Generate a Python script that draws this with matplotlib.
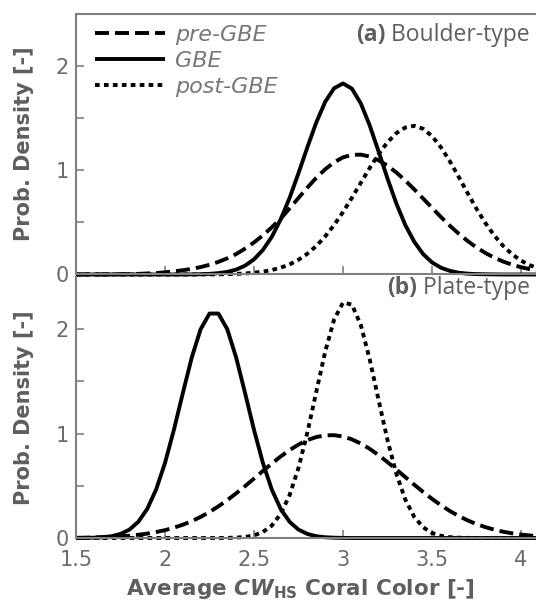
import numpy as np
import matplotlib
matplotlib.use("Agg")
import matplotlib.pyplot as plt
from matplotlib.ticker import FixedLocator, FuncFormatter

x = np.round(np.linspace(1.5, 4.1, 53), 2)

a_pre = [0, 0.001, 0.001, 0.001, 0.002, 0.003, 0.004, 0.006, 0.010, 0.014,
         0.021, 0.030, 0.041, 0.054, 0.071, 0.093, 0.121, 0.155, 0.196, 0.248,
         0.307, 0.375, 0.452, 0.535, 0.633, 0.733, 0.833, 0.926, 1.008, 1.075,
         1.122, 1.146, 1.148, 1.130, 1.094, 1.042, 0.977, 0.900, 0.816, 0.728,
         0.639, 0.551, 0.468, 0.391, 0.321, 0.259, 0.206, 0.161, 0.124, 0.094,
         0.070, 0.051, 0.037]
a_gbe = [0, 0, 0, 0, 0, 0, 0, 0, 0, 0,
         0, 0, 0, 0.001, 0.003, 0.006, 0.013, 0.025, 0.047, 0.085,
         0.145, 0.235, 0.361, 0.528, 0.734, 0.971, 1.220, 1.457, 1.654, 1.784,
         1.830, 1.780, 1.639, 1.428, 1.178, 0.919, 0.679, 0.474, 0.314, 0.196,
         0.116, 0.065, 0.035, 0.017, 0.008, 0.004, 0.002, 0.001, 0, 0,
         0, 0, 0]
a_post = [0, 0, 0, 0, 0, 0, 0, 0, 0, 0,
          0, 0, 0, 0, 0, 0.001, 0.002, 0.003, 0.006, 0.010,
          0.017, 0.027, 0.043, 0.065, 0.097, 0.141, 0.199, 0.273, 0.365, 0.474,
          0.598, 0.735, 0.878, 1.020, 1.153, 1.267, 1.354, 1.408, 1.424, 1.396,
          1.326, 1.219, 1.085, 0.935, 0.780, 0.630, 0.493, 0.373, 0.273, 0.194,
          0.133, 0.089, 0.057]

b_pre = [0.002, 0.003, 0.005, 0.008, 0.011, 0.016, 0.022, 0.031, 0.042, 0.057,
         0.075, 0.099, 0.127, 0.161, 0.202, 0.249, 0.303, 0.363, 0.428, 0.497,
         0.569, 0.642, 0.713, 0.781, 0.842, 0.895, 0.938, 0.967, 0.983, 0.985,
         0.972, 0.945, 0.905, 0.854, 0.794, 0.727, 0.656, 0.583, 0.511, 0.441,
         0.375, 0.314, 0.259, 0.211, 0.169, 0.133, 0.104, 0.080, 0.060, 0.045,
         0.033, 0.024, 0.017]
b_gbe = [0, 0.001, 0.003, 0.007, 0.017, 0.039, 0.080, 0.155, 0.278, 0.464,
         0.719, 1.036, 1.387, 1.727, 1.999, 2.150, 2.150, 1.999, 1.727, 1.387,
         1.036, 0.719, 0.464, 0.278, 0.155, 0.080, 0.039, 0.017, 0.007, 0.003,
         0.001, 0, 0, 0, 0, 0, 0, 0, 0, 0,
         0, 0, 0, 0, 0, 0, 0, 0, 0, 0,
         0, 0, 0]
b_post = [0, 0, 0, 0, 0, 0, 0, 0, 0, 0,
          0, 0, 0, 0, 0, 0, 0, 0.001, 0.004, 0.010,
          0.025, 0.057, 0.119, 0.231, 0.410, 0.672, 1.011, 1.401, 1.785, 2.092,
          2.255, 2.236, 2.040, 1.712, 1.321, 0.938, 0.613, 0.368, 0.203, 0.103,
          0.048, 0.021, 0.008, 0.003, 0.001, 0, 0, 0, 0, 0,
          0, 0, 0]

series_labels = ["pre-GBE", "GBE", "post-GBE"]
panels = [("(a)", " Boulder-type", [a_pre, a_gbe, a_post]),
          ("(b)", " Plate-type", [b_pre, b_gbe, b_post])]
y_ticks = [0, 0.5, 1, 1.5, 2]
y_labelled = [0, 1, 2]
x_ticks = [1.5, 2, 2.5, 3, 3.5, 4]

# ---- style ----
TXT = "#5e5e5e"
TICK = "#6b6b6b"
SPINE = "#808080"
LW = 2.8
plt.rcParams["mathtext.fontset"] = "custom"
plt.rcParams["mathtext.it"] = "DejaVu Sans:bold:italic"
plt.rcParams["mathtext.rm"] = "DejaVu Sans:bold"
plt.rcParams["mathtext.bf"] = "DejaVu Sans:bold"

fig = plt.figure(figsize=(5.36, 6.07), dpi=100)
W, H = 536, 607
x_right = 1.5 + 460 / 178
axa = fig.add_axes([76 / W, 1 - 274.5 / H, 460 / W, 261 / H])
axb = fig.add_axes([76 / W, 1 - 538 / H, 460 / W, 261 / H])
title_y = [0.896, 0.934]
dash_styles = [(3.6, 1.55), None, (1.2, 1.1)]

parts = []
for i, (ax, (tb, tn_txt, ser)) in enumerate(zip((axa, axb), panels)):
    for yv, lab, ds in zip(ser, series_labels, dash_styles):
        ln, = ax.plot(x, yv, color="black", lw=LW, clip_on=False, label=lab,
                      solid_capstyle="butt", dash_capstyle="butt")
        if ds is not None:
            ln.set_dashes(ds)
    ax.set_xlim(1.5, x_right)
    ax.set_ylim(0, 2.5)
    ax.yaxis.set_major_locator(FixedLocator(y_ticks))
    ax.yaxis.set_major_formatter(FuncFormatter(lambda v, p: f"{v:g}" if v in y_labelled else ""))
    ax.xaxis.set_major_locator(FixedLocator(x_ticks))
    ax.xaxis.set_major_formatter(FuncFormatter(lambda v, p: f"{v:g}"))
    ax.tick_params(direction="in", length=6, width=1.2, color=SPINE, labelcolor=TICK,
                   labelsize=15, pad=5)
    ax.tick_params(axis="x", pad=8.5)
    ax.spines["right"].set_visible(False)
    for s in ["left", "top", "bottom"]:
        ax.spines[s].set_color(SPINE)
        ax.spines[s].set_linewidth(1.5)
    ax.text((24 - 76) / 460, 0.5, "Prob. Density [-]", transform=ax.transAxes,
            rotation=90, ha="center", va="center", fontsize=15, fontweight="bold",
            color=TXT, family="DejaVu Sans")
    tn = ax.text(0.987, title_y[i], tn_txt, transform=ax.transAxes, ha="right",
                 va="baseline", fontsize=16.5, color=TXT, family="Open Sans")
    ax.patch.set_alpha(0)
    parts.append((ax, tn, tb, title_y[i]))

axb.spines["top"].set_visible(False)
axa.tick_params(labelbottom=False)

leg = axa.legend(loc="upper left", bbox_to_anchor=(19 / 460, 0.955), frameon=False,
                 borderpad=0, borderaxespad=0, handlelength=3.15, handletextpad=0.45,
                 labelspacing=0.27,
                 prop={"family": "DejaVu Sans", "style": "oblique", "size": 16})
for t in leg.get_texts():
    t.set_color("#777777")

fig.text(300 / W, 1 - 589 / H, r"Average $\mathit{CW}_{\mathrm{HS}}$ Coral Color [-]",
         ha="center", va="center", fontsize=15.5, fontweight="bold", color=TXT,
         family="DejaVu Sans")

fig.canvas.draw()
r = fig.canvas.get_renderer()
for ax, tn, tb, ty in parts:
    bb = tn.get_window_extent(r)
    xl = ax.transAxes.inverted().transform((bb.x0, bb.y0))[0]
    ax.text(xl, ty, tb, transform=ax.transAxes, ha="right", va="baseline",
            fontsize=16.5, fontweight="bold", color=TXT, family="Open Sans")

fig.savefig("out.png", dpi=100)
